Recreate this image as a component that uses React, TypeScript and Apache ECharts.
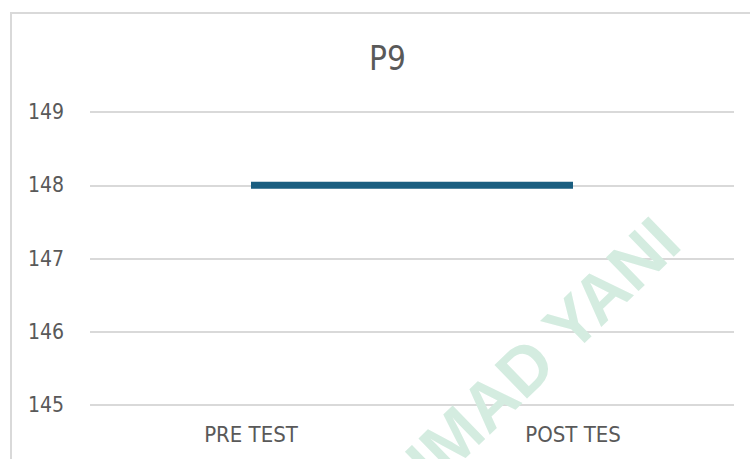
import React, { useEffect, useRef } from "react";
import * as echarts from "echarts";

const categories: string[] = ["PRE TEST", "POST TES"];
const values: number[] = [148, 148];
const yMin = 145;
const yMax = 149;
const chartTitle = "P9";
const watermark = "AHMAD YANI";

const FONT = '"DejaVu Sans Condensed", "Liberation Sans", sans-serif';
const TEXT = "#595959";
const GRID = "#d9d9d9";

export default function App() {
  const ref = useRef<HTMLDivElement>(null);
  useEffect(() => {
    if (!ref.current) return;
    const chart = echarts.init(ref.current, null, { renderer: "svg" });
    chart.setOption({
      animation: false,
      backgroundColor: "#ffffff",
      title: {
        text: chartTitle,
        left: 364,
        top: 37,
        textStyle: { fontFamily: FONT, fontSize: 33, fontWeight: "normal", color: TEXT },
      },
      grid: { left: 90, right: 16, top: 112, bottom: 54, containLabel: false },
      xAxis: {
        type: "category",
        data: categories,
        boundaryGap: true,
        axisLine: { show: false },
        axisTick: { show: false },
        axisLabel: { fontFamily: FONT, fontSize: 22, color: TEXT, margin: 18 },
        splitLine: { show: false },
      },
      yAxis: {
        type: "value",
        min: yMin,
        max: yMax,
        interval: 1,
        axisLine: { show: false },
        axisTick: { show: false },
        axisLabel: { fontFamily: FONT, fontSize: 21, color: TEXT, margin: 26 },
        splitLine: { lineStyle: { color: GRID, width: 2 } },
      },
      series: [
        {
          type: "line",
          data: values,
          showSymbol: false,
          symbol: "none",
          lineStyle: { color: "#1a5e80", width: 7, cap: "butt" },
          z: 3,
        },
      ],
      graphic: [
        {
          type: "rect",
          shape: { x: 11, y: 13, width: 800, height: 500 },
          style: { fill: "none", stroke: GRID, lineWidth: 2 },
          silent: true,
        },
        {
          type: "text",
          x: 514,
          y: 378,
          rotation: (44 * Math.PI) / 180,
          z: 10,
          silent: true,
          style: {
            text: watermark,
            fontFamily: '"Liberation Sans", sans-serif',
            fontWeight: "bold",
            fontSize: 68,
            fill: "#d4ece0",
            align: "center",
            verticalAlign: "middle",
          },
        },
      ],
    });
    return () => chart.dispose();
  }, []);
  return (
    <div
      ref={ref}
      style={{ position: "fixed", left: 0, top: 0, width: 750, height: 459 }}
    />
  );
}
